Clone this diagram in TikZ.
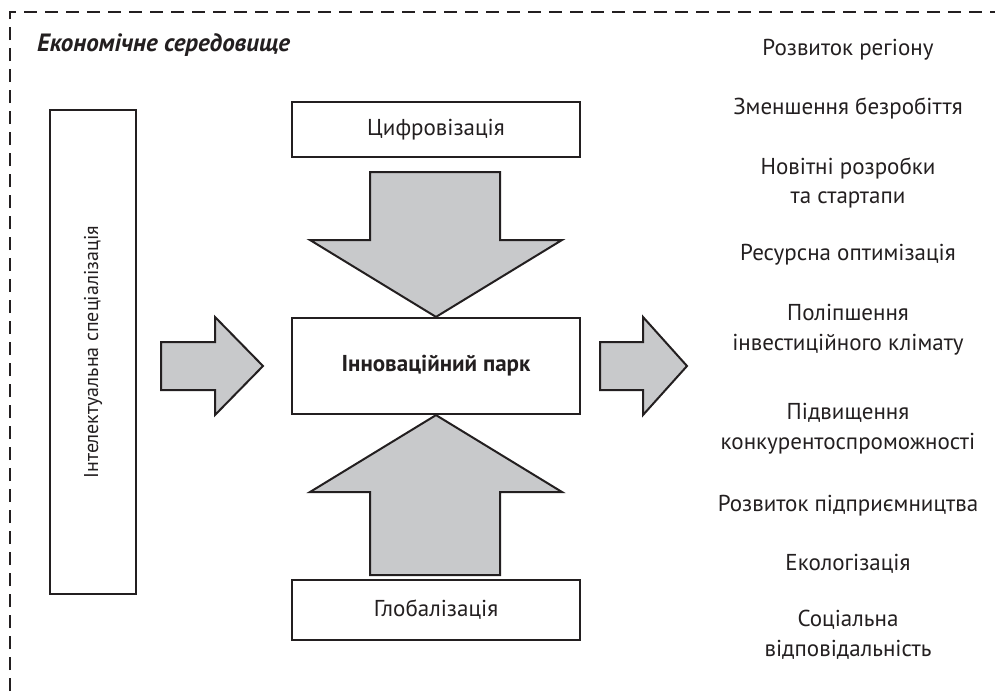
\documentclass[tikz,border=0pt]{standalone}
\usepackage{fontspec}
\setmainfont{PT Sans}
\definecolor{ink}{RGB}{35,31,32}
\definecolor{arrowgray}{RGB}{200,201,203}
\tikzstyle{box}=[shape=rectangle,draw=ink,line width=2.2pt,fill=white,text=ink,inner sep=0pt,font=\fontsize{23}{28}\selectfont]
\tikzstyle{result}=[align=center,text=ink,font=\fontsize{23}{29.5}\selectfont]
\tikzstyle{blockarrow}=[draw=ink,line width=2pt,fill=arrowgray,line join=miter]

\begin{document}
\begin{tikzpicture}[x=1pt,y=-1pt]
        \useasboundingbox (0,0) rectangle (995,691);
        % frame
        \draw [ink,line width=2.2pt,dash pattern=on 13pt off 8pt] (10,691) -- (10,12) -- (995,12);
        \node[anchor=west,text=ink,inner sep=0pt,font=\fontsize{25}{28}\selectfont\bfseries\itshape] (env) at (37,45) {Економічне середовище};

        % boxes
        \node[box,minimum width=86,minimum height=484,font=\fontsize{20}{24}\selectfont] (spec) at (93,352)
            {\rotatebox{90}{Інтелектуальна спеціалізація}};
        \node[box,minimum width=288,minimum height=55] (digit) at (436,129.5) {Цифровізація};
        \node[box,minimum width=288,minimum height=96,font=\fontsize{23}{28}\selectfont\bfseries] (park) at (436,366) {Інноваційний парк};
        \node[box,minimum width=288,minimum height=60] (glob) at (436,610) {Глобалізація};

        % block arrows
        \draw [blockarrow] (161,342) -- (215,342) -- (215,317) -- (263,366) -- (215,415) -- (215,390) -- (161,390) -- cycle;
        \draw [blockarrow] (600,342) -- (643,342) -- (643,317) -- (687,366) -- (643,415) -- (643,390) -- (600,390) -- cycle;
        \draw [blockarrow] (370,172) -- (500,172) -- (500,240) -- (562,240) -- (park.north) -- (310,240) -- (370,240) -- cycle;
        \draw [blockarrow] (370,575) -- (500,575) -- (500,492) -- (562,492) -- (park.south) -- (310,492) -- (370,492) -- cycle;

        % results
        \node[result] (r1) at (848,50) {Розвиток регіону};
        \node[result] (r2) at (848,108) {Зменшення безробіття};
        \node[result] (r3) at (848,183) {Новітні розробки\\та стартапи};
        \node[result] (r4) at (848,255) {Ресурсна оптимізація};
        \node[result] (r5) at (848,329.5) {Поліпшення\\інвестиційного клімату};
        \node[result] (r6) at (848,428.5) {Підвищення\\конкурентоспроможності};
        \node[result] (r7) at (848,506) {Розвиток підприємництва};
        \node[result] (r8) at (848,564) {Екологізація};
        \node[result] (r9) at (848,635) {Соціальна\\відповідальність};
    \end{tikzpicture}
\end{document}
